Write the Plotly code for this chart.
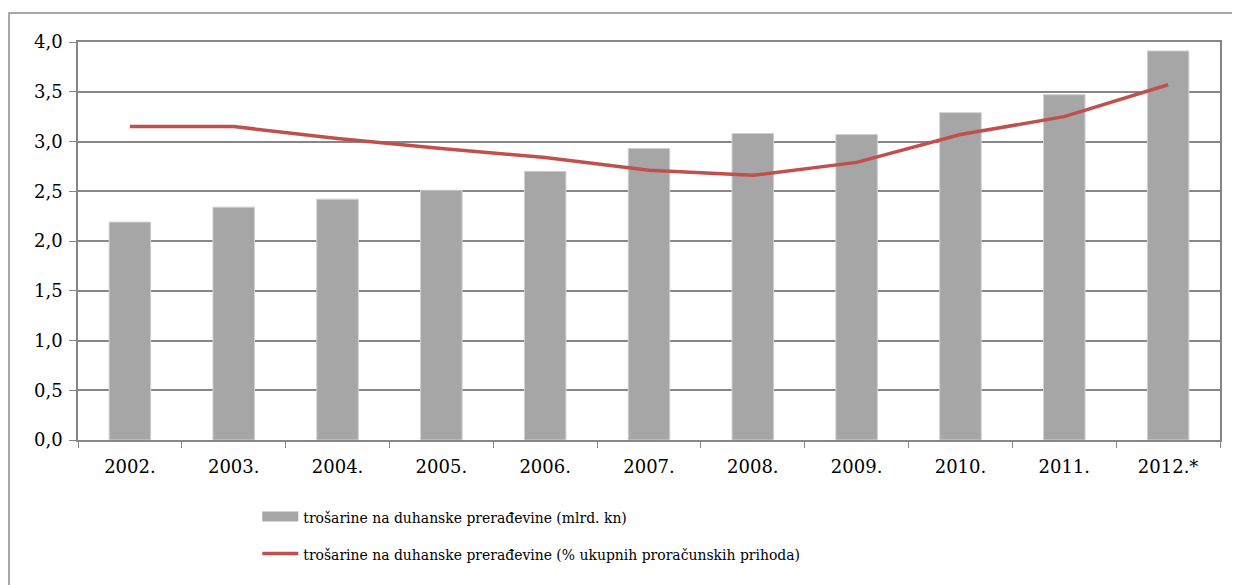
import plotly.graph_objects as go

years = ["2002.", "2003.", "2004.", "2005.", "2006.", "2007.", "2008.", "2009.", "2010.", "2011.", "2012.*"]
excise_bn_kn = [2.19, 2.34, 2.42, 2.51, 2.70, 2.93, 3.08, 3.07, 3.29, 3.47, 3.91]
excise_pct_revenue = [3.15, 3.15, 3.03, 2.93, 2.84, 2.71, 2.66, 2.79, 3.07, 3.25, 3.57]
y_ticks = [0, 0.5, 1.0, 1.5, 2.0, 2.5, 3.0, 3.5, 4.0]
y_tick_labels = ["0,0", "0,5", "1,0", "1,5", "2,0", "2,5", "3,0", "3,5", "4,0"]

bar_name = "trošarine na duhanske prerađevine (mlrd. kn)"
line_name = "trošarine na duhanske prerađevine (% ukupnih proračunskih prihoda)"

TICK_FONT = "DejaVu Serif"
LEGEND_FONT = "DejaVu Serif Condensed, DejaVu Serif"
GRID = "#868686"
BAR_COLOR = "#A6A6A6"
LINE_COLOR = "#C0504D"

fig = go.Figure()

fig.add_trace(go.Bar(
    x=years,
    y=excise_bn_kn,
    name=bar_name,
    showlegend=False,
    legendgroup="bar",
    marker=dict(color=BAR_COLOR, line=dict(color="#D0D0D0", width=1)),
))

# legend entry for the bars, drawn as a wide block like the original
fig.add_trace(go.Scatter(
    x=[None], y=[None],
    name=bar_name,
    legendgroup="bar",
    mode="lines",
    line=dict(color=BAR_COLOR, width=11),
))

fig.add_trace(go.Scatter(
    x=years,
    y=excise_pct_revenue,
    name=line_name,
    legendgroup="line",
    mode="lines",
    line=dict(color=LINE_COLOR, width=3.5),
))

# outer chart border
fig.add_shape(
    type="rect", xref="paper", yref="paper",
    x0=-0.0604, x1=1.1, y0=-0.5, y1=1.073,
    line=dict(color="#8C8C8C", width=1.5),
    layer="below",
)

fig.update_layout(
    width=1240,
    height=585,
    margin=dict(l=70, r=28, t=34, b=153),
    paper_bgcolor="white",
    plot_bgcolor="white",
    font=dict(family=TICK_FONT, size=18, color="black"),
    bargap=0.6,
    showlegend=True,
    legend=dict(
        x=0.157, y=-0.1505, xanchor="left", yanchor="top",
        orientation="v",
        font=dict(size=15.5, family=LEGEND_FONT),
        itemwidth=36,
        tracegroupgap=14,
        bgcolor="rgba(0,0,0,0)",
    ),
    xaxis=dict(
        showline=True, linecolor=GRID, linewidth=1.5,
        ticks="outside", tickson="boundaries", ticklen=6, tickcolor=GRID,
        showgrid=False,
        mirror=True,
        ticklabelstandoff=10,
        tickfont=dict(family=TICK_FONT, size=18),
    ),
    yaxis=dict(
        range=[0, 4.0],
        tickvals=y_ticks, ticktext=y_tick_labels,
        showline=True, linecolor=GRID, linewidth=1.5,
        ticks="outside", ticklen=7, tickcolor=GRID,
        showgrid=True, gridcolor=GRID, gridwidth=1.5,
        mirror=True,
        zeroline=False,
        ticklabelstandoff=3,
        tickfont=dict(family=TICK_FONT, size=18),
    ),
)

fig.write_html("out.html")
